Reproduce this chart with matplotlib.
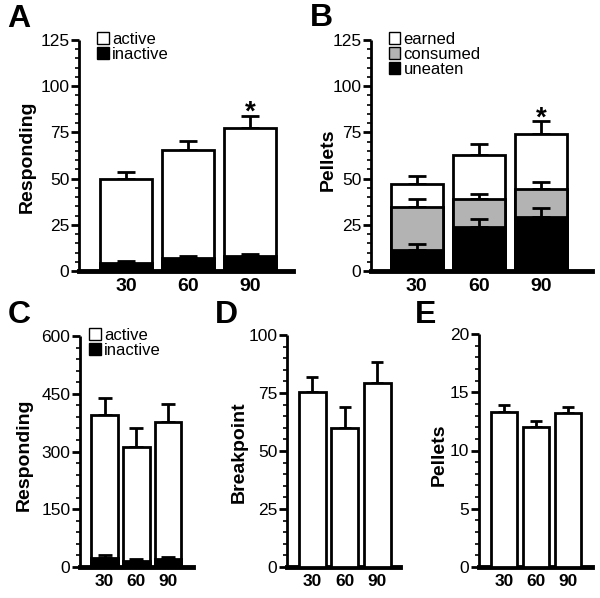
import matplotlib
matplotlib.use("Agg")
import matplotlib.pyplot as plt
from matplotlib.ticker import MultipleLocator
from matplotlib.patches import Patch

plt.rcParams['font.family'] = ['Liberation Sans', 'DejaVu Sans']

groups = ['30', '60', '90']

A_active = [49.7, 65.4, 77.5]
A_active_err = [3.9, 5.2, 6.5]
A_inactive = [4.3, 7.0, 8.0]
A_inactive_err = [1.3, 1.3, 1.4]

B_earned = [47.3, 63.0, 73.9]
B_earned_err = [4.2, 5.8, 7.0]
B_consumed = [34.7, 38.7, 44.4]
B_consumed_err = [4.1, 2.7, 3.5]
B_uneaten = [11.6, 23.8, 29.3]
B_uneaten_err = [3.0, 4.2, 4.7]

C_active = [394, 312, 377]
C_active_err = [44, 50, 46]
C_inactive = [23, 15, 22]
C_inactive_err = [9, 5, 4]

D_breakpoint = [75.3, 59.7, 79.1]
D_breakpoint_err = [6.4, 9.2, 9.1]

E_pellets = [13.3, 12.05, 13.2]
E_pellets_err = [0.6, 0.52, 0.5]

GRAY = '#b3b3b3'
W, H = 600, 598
fig = plt.figure(figsize=(W / 100, H / 100), dpi=100)


def add_axes(left, right, top, bottom):
    return fig.add_axes([left / W, 1 - bottom / H, (right - left) / W, (bottom - top) / H])


def setup(ax, ymax, major, minor, xlim, xlabsize, ylabsize):
    ax.set_ylim(0, ymax)
    ax.set_xlim(*xlim)
    for s in ['top', 'right']:
        ax.spines[s].set_visible(False)
    ax.spines['left'].set_linewidth(2)
    ax.spines['bottom'].set_linewidth(3.5)
    ax.spines['left'].set_capstyle('butt')
    ax.yaxis.set_major_locator(MultipleLocator(major))
    ax.yaxis.set_minor_locator(MultipleLocator(minor))
    ax.tick_params(axis='y', which='major', length=6, width=2, labelsize=ylabsize, pad=1)
    ax.tick_params(axis='y', which='minor', length=3, width=1.2)
    ax.tick_params(axis='x', length=0, labelsize=xlabsize, pad=5)
    ax.set_xticks(range(len(groups)))
    ax.set_xticklabels(groups, fontweight='bold')
    ax.patch.set_visible(False)


def bars(ax, vals, errs, width, color, cap, z):
    x = list(range(len(vals)))
    ax.bar(x, vals, width=width, color=color, edgecolor='black', linewidth=2, zorder=z)
    ax.errorbar(x, vals, yerr=[[0] * len(vals), errs], fmt='none', ecolor='black',
                elinewidth=2, capsize=cap, capthick=2, zorder=z - 0.5)


def legend(ax, items, bx, by, size):
    handles = [Patch(facecolor=c, edgecolor='black', linewidth=1, label=l) for l, c in items]
    ax.legend(handles=handles, loc='upper left', bbox_to_anchor=(bx, by), frameon=False,
              fontsize=size, handlelength=0.7, handleheight=0.7, handletextpad=0.2,
              labelspacing=0.0, borderpad=0, borderaxespad=0)


def letter(x, y, s):
    fig.text(x / W, 1 - y / H, s, fontsize=23, fontweight='bold', ha='left', va='top')


def ylab(x, y, s):
    fig.text(x / W, 1 - y / H, s, fontsize=14, fontweight='bold', rotation=90,
             ha='center', va='center')


def star(ax, i, vals, errs):
    ax.text(i, vals[i] + errs[i] - 5.5, '*', fontsize=20, fontweight='bold',
            ha='center', va='bottom')


# Panel A
axA = add_axes(79, 293, 40, 271)
setup(axA, 125, 25, 5, (-0.758, 2.694), 14, 12.5)
bars(axA, A_active, A_active_err, 0.83, 'white', 6.5, 3)
bars(axA, A_inactive, A_inactive_err, 0.83, 'black', 6.5, 4)
star(axA, 2, A_active, A_active_err)
legend(axA, [('active', 'white'), ('inactive', 'black')], 0.085, 1.035, 12)

# Panel B
axB = add_axes(371, 592, 40, 271)
setup(axB, 125, 25, 5, (-0.735, 2.817), 14, 12.5)
bars(axB, B_earned, B_earned_err, 0.84, 'white', 6.5, 3)
bars(axB, B_consumed, B_consumed_err, 0.84, GRAY, 6.5, 4)
bars(axB, B_uneaten, B_uneaten_err, 0.84, 'black', 6.5, 5)
star(axB, 2, B_earned, B_earned_err)
legend(axB, [('earned', 'white'), ('consumed', GRAY), ('uneaten', 'black')], 0.08, 1.035, 12)

# Panel C
axC = add_axes(80, 193, 336, 567)
setup(axC, 600, 150, 30, (-0.772, 2.787), 12.5, 12.5)
bars(axC, C_active, C_active_err, 0.84, 'white', 5, 3)
bars(axC, C_inactive, C_inactive_err, 0.84, 'black', 5, 4)
legend(axC, [('active', 'white'), ('inactive', 'black')], 0.08, 1.035, 12)

# Panel D
axD = add_axes(287, 400, 335, 567)
setup(axD, 100, 25, 5, (-0.775, 2.693), 12.5, 12.5)
bars(axD, D_breakpoint, D_breakpoint_err, 0.82, 'white', 4, 3)

# Panel E
axE = add_axes(479, 592, 334, 567)
setup(axE, 20, 5, 1, (-0.772, 2.75), 12.5, 12.5)
bars(axE, E_pellets, E_pellets_err, 0.82, 'white', 4, 3)

letter(7, 4, 'A')
letter(310, 3, 'B')
letter(8, 300, 'C')
letter(215, 300, 'D')
letter(415, 300, 'E')

ylab(27, 157, 'Responding')
ylab(328, 160, 'Pellets')
ylab(24, 455, 'Responding')
ylab(239, 452, 'Breakpoint')
ylab(439, 455, 'Pellets')

fig.savefig('out.png', dpi=100)
